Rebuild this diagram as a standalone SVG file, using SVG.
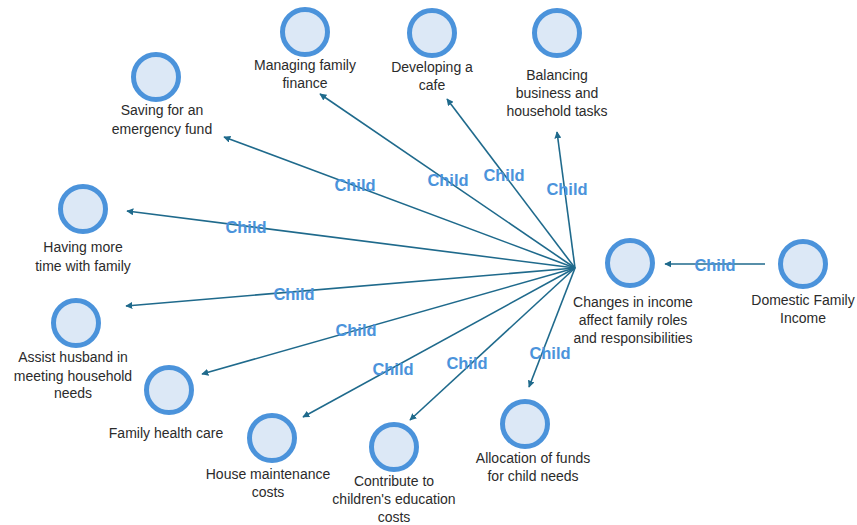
<svg xmlns="http://www.w3.org/2000/svg" width="857" height="525" viewBox="0 0 857 525">
  <style>
    .node circle { fill: #dce8f6; stroke: #4b93db; stroke-width: 5; }
    .node text { font-family: "Liberation Sans", Arial, sans-serif; font-size: 14px; fill: #2b2b2b; text-anchor: middle; }
    .edge { stroke: #1f6a8c; stroke-width: 1.6; fill: none; marker-end: url(#arrow); }
    .lbl { font-family: "Liberation Sans", Arial, sans-serif; font-size: 16.5px; font-weight: bold; fill: #4b93db; text-anchor: middle; }
  </style>
  <defs>
    <marker id="arrow" viewBox="0 0 10 10" refX="9" refY="5" markerWidth="7" markerHeight="7" markerUnits="userSpaceOnUse" orient="auto">
      <path d="M0,0 L10,5 L0,10 Z" fill="#1f6a8c"/>
    </marker>
  </defs>
  <rect width="857" height="525" fill="#ffffff"/>

  <!-- connectors -->
  <g id="connectors">
    <line class="edge" x1="765" y1="264" x2="665" y2="264"/>
    <line class="edge" x1="575" y1="268" x2="320" y2="94"/>
    <line class="edge" x1="575" y1="268" x2="224" y2="137"/>
    <line class="edge" x1="575" y1="268" x2="447" y2="99"/>
    <line class="edge" x1="575" y1="268" x2="557" y2="132"/>
    <line class="edge" x1="575" y1="268" x2="127" y2="211"/>
    <line class="edge" x1="575" y1="268" x2="126" y2="306"/>
    <line class="edge" x1="575" y1="268" x2="202" y2="374"/>
    <line class="edge" x1="575" y1="268" x2="303" y2="417"/>
    <line class="edge" x1="575" y1="268" x2="410" y2="420"/>
    <line class="edge" x1="575" y1="268" x2="529" y2="387"/>
    <text class="lbl" x="715" y="271">Child</text>
    <text class="lbl" x="355" y="191">Child</text>
    <text class="lbl" x="448" y="186">Child</text>
    <text class="lbl" x="504" y="181">Child</text>
    <text class="lbl" x="567" y="195">Child</text>
    <text class="lbl" x="246" y="233">Child</text>
    <text class="lbl" x="294" y="300">Child</text>
    <text class="lbl" x="356" y="336">Child</text>
    <text class="lbl" x="393" y="375">Child</text>
    <text class="lbl" x="467" y="369">Child</text>
    <text class="lbl" x="550" y="359">Child</text>
  </g>

  <!-- nodes -->
  <g id="n-domestic" class="node">
    <circle cx="803" cy="264" r="22.5"/>
    <text x="803" y="305">Domestic Family</text>
    <text x="803" y="323">Income</text>
  </g>
  <g id="n-changes" class="node">
    <circle cx="630" cy="263" r="22.5"/>
    <text x="633" y="307">Changes in income</text>
    <text x="633" y="325">affect family roles</text>
    <text x="633" y="343">and responsibilities</text>
  </g>
  <g id="n-managing" class="node">
    <circle cx="305" cy="32" r="22.5"/>
    <text x="305" y="70">Managing family</text>
    <text x="305" y="88">finance</text>
  </g>
  <g id="n-saving" class="node">
    <circle cx="156" cy="77" r="22.5"/>
    <text x="162" y="115">Saving for an</text>
    <text x="162" y="134">emergency fund</text>
  </g>
  <g id="n-cafe" class="node">
    <circle cx="432" cy="33" r="22.5"/>
    <text x="432" y="72">Developing a</text>
    <text x="432" y="90">cafe</text>
  </g>
  <g id="n-balancing" class="node">
    <circle cx="557" cy="33" r="22.5"/>
    <text x="557" y="80">Balancing</text>
    <text x="557" y="98">business and</text>
    <text x="557" y="116">household tasks</text>
  </g>
  <g id="n-time" class="node">
    <circle cx="83" cy="209" r="22.5"/>
    <text x="83" y="252">Having more</text>
    <text x="83" y="271">time with family</text>
  </g>
  <g id="n-assist" class="node">
    <circle cx="76" cy="323" r="22.5"/>
    <text x="73" y="362">Assist husband in</text>
    <text x="73" y="381">meeting household</text>
    <text x="73" y="398">needs</text>
  </g>
  <g id="n-health" class="node">
    <circle cx="169" cy="390" r="22.5"/>
    <text x="166" y="438">Family health care</text>
  </g>
  <g id="n-house" class="node">
    <circle cx="272" cy="438" r="22.5"/>
    <text x="268" y="479">House maintenance</text>
    <text x="268" y="497">costs</text>
  </g>
  <g id="n-education" class="node">
    <circle cx="394" cy="447" r="22.5"/>
    <text x="394" y="486">Contribute to</text>
    <text x="394" y="504">children's education</text>
    <text x="394" y="522">costs</text>
  </g>
  <g id="n-allocation" class="node">
    <circle cx="525" cy="424" r="22.5"/>
    <text x="533" y="463">Allocation of funds</text>
    <text x="533" y="481">for child needs</text>
  </g>
</svg>
